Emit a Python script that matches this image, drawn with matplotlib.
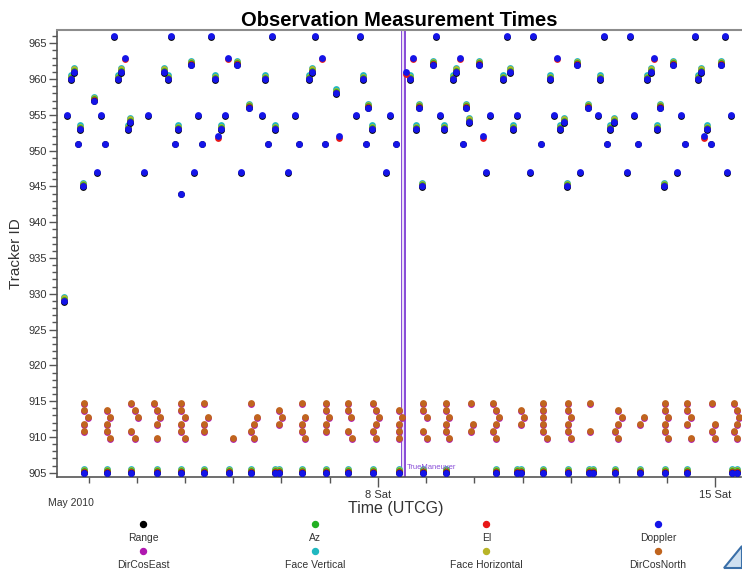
import matplotlib
matplotlib.use("Agg")
import matplotlib.pyplot as plt
from matplotlib.lines import Line2D
from matplotlib.patches import Polygon

plt.rcParams['font.family'] = ['Liberation Sans', 'DejaVu Sans']

# ---------------- data (time in days since 2010-05-01 00:00 UTCG) ----------------
# full stacks: Range, Az, El, Doppler, Face Horizontal, Face Vertical
stacked_t = [0.491, 0.630, 0.692, 0.829, 0.891, 1.107, 1.611, 1.667, 1.812, 1.866,
             2.564, 2.647, 2.848, 3.124, 3.628, 3.752, 4.084, 4.333, 4.658, 4.865,
             5.564, 5.639, 6.130, 6.683, 6.800, 6.882, 7.664, 7.782, 7.857, 7.919,
             8.141, 8.363, 8.555, 8.618, 8.819, 8.893, 9.094, 9.598, 9.737, 9.793,
             10.572, 10.774, 10.856, 10.918, 11.120, 11.348, 11.609, 11.816, 11.893, 12.591,
             12.674, 12.791, 12.852, 12.929, 13.130, 13.634, 13.703, 13.827, 14.105]
stacked_id = [929, 960, 961, 953, 945, 957, 960, 961, 953, 954,
              961, 960, 953, 962, 960, 953, 962, 956, 960, 953,
              960, 961, 958, 960, 956, 953, 960, 953, 956, 945,
              962, 953, 960, 961, 956, 954, 962, 960, 961, 953,
              960, 953, 954, 945, 962, 956, 960, 953, 954, 960,
              961, 953, 956, 945, 962, 960, 961, 953, 962]

# Range + Doppler only
doppler_t = [0.547, 0.775, 1.175, 1.252, 1.335, 1.534, 2.150, 2.226, 2.709, 2.786,
             2.911, 3.186, 3.269, 3.346, 3.545, 3.823, 4.167, 4.590, 4.726, 4.803,
             5.141, 5.280, 5.363, 5.701, 5.908, 6.545, 6.621, 6.746, 7.160, 7.243,
             7.374, 8.203, 8.280, 8.757, 9.239, 9.316, 9.675, 9.876, 10.152, 10.214,
             10.373, 10.655, 11.188, 11.555, 11.692, 11.754, 12.169, 12.231, 12.314, 12.390,
             13.213, 13.288, 13.371, 13.572, 13.910, 14.194, 14.250, 14.333]
doppler_id = [955, 951, 947, 955, 951, 966, 947, 955, 966, 951,
              944, 947, 955, 951, 966, 955, 947, 955, 951, 966,
              947, 955, 951, 966, 951, 955, 966, 951, 947, 955,
              951, 966, 955, 951, 947, 955, 966, 955, 947, 966,
              951, 955, 947, 955, 966, 951, 947, 966, 955, 951,
              947, 955, 951, 966, 951, 966, 947, 955]

# El + Doppler
el_t = [1.756, 3.684, 3.891, 5.840, 6.186, 7.581, 7.720, 8.701, 9.177, 10.711, 12.728, 13.773]
el_id = [963, 952, 963, 963, 952, 961, 963, 963, 952, 963, 963, 952]

# DirCosEast / DirCosNorth trackers
dircos_915 = [0.912, 1.886, 2.351, 2.923, 3.400, 4.368, 5.419, 5.923, 6.379, 6.903, 7.940,
              8.404, 8.922, 9.378, 10.415, 10.933, 11.395, 12.956, 13.412, 13.931, 14.387]
dircos_914 = [0.912, 1.383, 1.963, 2.419, 2.923, 4.948, 5.923, 6.379, 6.959, 7.442, 7.940,
              8.404, 9.447, 9.965, 10.415, 10.933, 11.970, 12.956, 13.412, 14.437]
dircos_913 = [0.995, 1.439, 2.025, 2.488, 3.006, 3.470, 4.498, 5.017, 5.487, 5.991, 6.441, 7.027,
              7.504, 8.023, 8.472, 9.515, 10.033, 10.431, 10.995, 12.052, 12.515, 13.012, 13.483, 14.490]
dircos_912 = [0.912, 1.383, 2.419, 2.923, 3.400, 4.436, 4.948, 5.419, 5.923, 6.959, 7.442, 8.404,
              8.976, 9.447, 9.965, 10.415, 10.933, 11.970, 12.432, 12.956, 13.412, 13.987, 14.437]
dircos_911 = [0.912, 1.383, 1.886, 2.923, 3.400, 4.368, 5.419, 5.923, 6.379, 6.903, 7.442, 7.940,
              8.404, 8.922, 9.378, 10.415, 10.933, 11.395, 11.914, 12.956, 13.931, 14.387]
dircos_910 = [1.439, 1.963, 2.419, 3.006, 3.988, 4.436, 5.487, 6.462, 6.959, 7.442, 8.023, 8.472,
              9.447, 10.498, 10.995, 11.970, 13.012, 13.483, 13.987, 14.437]
dircos_tracks = {915: dircos_915, 914: dircos_914, 913: dircos_913,
                 912: dircos_912, 911: dircos_911, 910: dircos_910}

# tracker 905 full stacks
t905 = [0.912, 1.383, 1.886, 2.419, 2.923, 3.400, 3.906, 4.368, 4.865, 4.948, 5.419, 5.923,
        6.379, 6.903, 7.442, 7.940, 8.404, 9.447, 9.876, 9.965, 10.415, 10.933, 11.375, 11.451,
        11.914, 12.432, 12.956, 13.412, 14.353, 14.437]

maneuver_t = 7.53
maneuver_label = "TrueManeuver"

legend_names = ["Range", "Az", "El", "Doppler",
                "DirCosEast", "Face Vertical", "Face Horizontal", "DirCosNorth"]
legend_colors = ["#000000", "#22b022", "#e81818", "#1414e8",
                 "#b018b0", "#20b8c0", "#b8b428", "#c0641e"]
col = dict(zip(legend_names, legend_colors))

x_tick_days = list(range(1, 15))
x_tick_labels = {7: "8 Sat", 14: "15 Sat"}

# ---------------- figure ----------------
fig = plt.figure(figsize=(7.42, 5.72), dpi=100)
ax = fig.add_axes([57 / 742, 1 - 477 / 572, (741 - 57) / 742, (477 - 30) / 572])

S = 24
off = {"Face Vertical": 0.55, "Face Horizontal": 0.36, "Az": 0.2, "El": 0.05,
       "Range": -0.1, "Doppler": 0.0}

all_stack_t = stacked_t + t905
all_stack_id = stacked_id + [905] * len(t905)
for name in ["Face Vertical", "Face Horizontal", "Az", "El", "Range", "Doppler"]:
    ax.scatter(all_stack_t, [v + off[name] for v in all_stack_id], s=S,
               color=col[name], linewidths=0, zorder=3)

ax.scatter(doppler_t, [v - 0.1 for v in doppler_id], s=S, color=col["Range"], linewidths=0, zorder=3)
ax.scatter(doppler_t, doppler_id, s=S, color=col["Doppler"], linewidths=0, zorder=3)

ax.scatter(el_t, [v - 0.22 for v in el_id], s=S, color=col["El"], linewidths=0, zorder=3)
ax.scatter(el_t, el_id, s=S, color=col["Doppler"], linewidths=0, zorder=3)

for tid, ts in dircos_tracks.items():
    ax.scatter(ts, [tid - 0.35] * len(ts), s=S, color=col["DirCosEast"], linewidths=0, zorder=3)
    ax.scatter(ts, [tid - 0.2] * len(ts), s=S, color=col["DirCosNorth"], linewidths=0, zorder=3)

# maneuver line (double purple line)
ax.axvline(maneuver_t, color="#8a4fd8", lw=3.6, zorder=2)
ax.axvline(maneuver_t, color="white", lw=1.2, zorder=2)
ax.text(maneuver_t + 0.06, 905.7, maneuver_label, color="#8a4fd8", fontsize=5.5,
        va="center", ha="left", zorder=4)

ax.set_xlim(0.346, 14.53)
ax.set_ylim(904.4, 966.86)

# axes styling
ax.spines["right"].set_visible(False)
ax.spines["top"].set_color("#8c8c8c")
ax.spines["top"].set_linewidth(1.5)
ax.spines["left"].set_color("#555555")
ax.spines["bottom"].set_color("#555555")
ax.spines["left"].set_linewidth(1.2)
ax.spines["bottom"].set_linewidth(1.2)

ax.set_yticks(list(range(905, 966, 5)))
ax.set_yticks(list(range(905, 967)), minor=True)
ax.tick_params(axis="y", which="major", length=6, width=1, color="#555555",
               labelsize=8, labelcolor="#333333", pad=1)
ax.tick_params(axis="y", which="minor", length=3.5, width=1, color="#555555")

major_x = [d for d in x_tick_days if d in x_tick_labels]
minor_x = [d for d in x_tick_days if d not in x_tick_labels]
ax.set_xticks(major_x)
ax.set_xticklabels([x_tick_labels[d] for d in major_x])
ax.set_xticks(minor_x, minor=True)
ax.tick_params(axis="x", which="major", length=7, width=1, color="#555555",
               labelsize=8, labelcolor="#333333", pad=2)
ax.tick_params(axis="x", which="minor", length=4, width=1, color="#555555")

ax.set_title("Observation Measurement Times", fontsize=14.5, fontweight="bold", pad=3)
ax.set_ylabel("Tracker ID", fontsize=11, color="#333333", labelpad=4)
fig.text(0.533, 1 - 508 / 572, "Time (UTCG)", fontsize=11.5, color="#333333",
         ha="center", va="center")
fig.text(48 / 742, 1 - 503 / 572, "May 2010", fontsize=7.5, color="#333333",
         ha="left", va="center")

# legend: 4 columns x 2 rows, marker above label
for i, (name, c) in enumerate(zip(legend_names, legend_colors)):
    r, k = divmod(i, 4)
    xc = (143 + k * 171.7) / 742
    ym = 1 - (524 + r * 27) / 572
    yl = 1 - (538 + r * 27) / 572
    fig.add_artist(Line2D([xc], [ym], marker="o", markersize=4.3, color=c,
                          linestyle="none", transform=fig.transFigure))
    fig.text(xc, yl, name, fontsize=7.5, color="#333333", ha="center", va="center")

# small logo triangle in the corner
fig.add_artist(Polygon([[724 / 742, 1 - 568 / 572], [742 / 742, 1 - 546 / 572],
                        [742 / 742, 1 - 568 / 572]], closed=True,
                       facecolor="#cfe0f0", edgecolor="#3a6fa8", lw=1.5,
                       transform=fig.transFigure))

fig.savefig("out.png", dpi=100)
